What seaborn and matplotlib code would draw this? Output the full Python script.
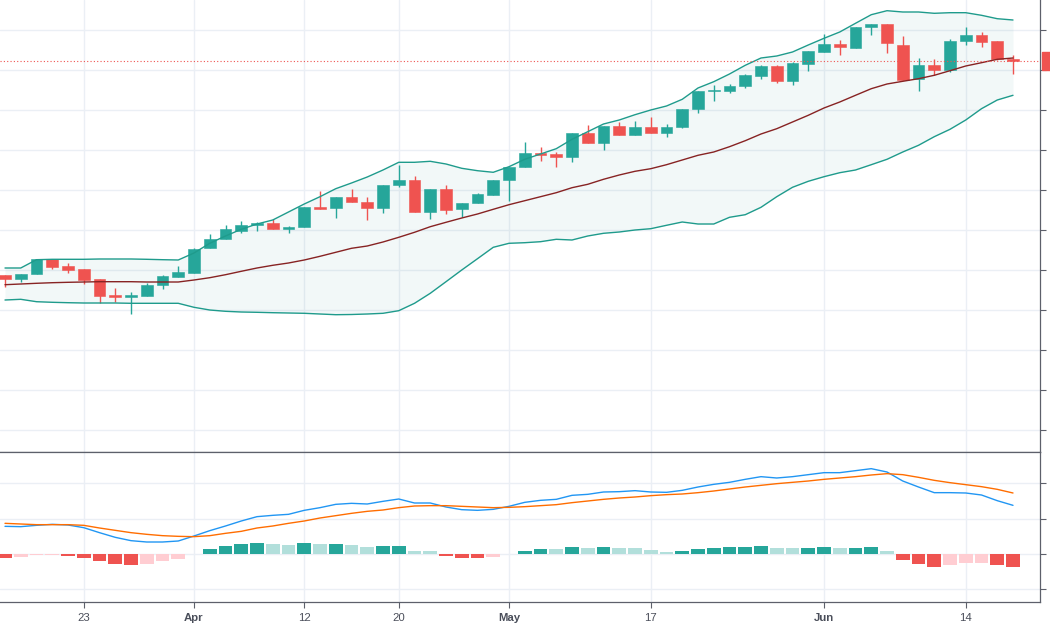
import matplotlib
matplotlib.use("Agg")
import matplotlib.pyplot as plt
from matplotlib.patches import Rectangle
import numpy as np
import pandas as pd
import seaborn as sns

# ---- data (price units, one row per session) ----
opens = [234.7, 231.3, 236, 250.7, 244, 240.7, 230.7, 214.7, 212.7, 214,
         224.7, 232.7, 237.3, 262, 271.3, 279.3, 284.7, 286.7, 281.3, 283.3,
         303.3, 302, 313.3, 308, 302, 324.7, 330, 298, 321.3, 300.7,
         307.3, 315.3, 330, 342.7, 357.3, 356, 352.7, 376.7, 366.7, 384,
         375.3, 383.3, 377.3, 382.7, 401.3, 419.2, 418.7, 424, 434, 444,
         429.3, 446, 458, 466, 462, 482.7, 486, 465.3, 430.7, 445.3,
         440, 469.3, 475.3, 468.7, 451.3]
closes = [231.3, 236, 250.7, 243.3, 240, 230, 214, 212.7, 215.3, 225,
          234, 238, 261.3, 271.3, 280.7, 284.7, 286.7, 281.3, 283.3, 302.7,
          301.3, 312.7, 308, 302, 324.7, 330, 298, 321.3, 300, 307.3,
          316, 330, 343.3, 357.3, 355.3, 352.7, 376.7, 367.3, 384, 375.3,
          383.3, 376.7, 382.7, 401.3, 419.3, 419.6, 424, 434.7, 444, 429.3,
          446.7, 459.3, 466, 462.7, 482.7, 486, 466.7, 430, 445.3, 440,
          469.3, 475.3, 468, 450.7, 448.7]
highs = [235.5, 236, 251, 251, 247.3, 241, 231, 222, 218, 227.3,
         234.7, 244, 262, 276, 284.7, 288.7, 288, 291.3, 284, 303,
         318.7, 313, 320.7, 312.7, 324.7, 345.3, 334.5, 321.3, 325, 307.3,
         317.3, 330, 343.3, 368, 362.7, 358, 377, 385.3, 384, 388,
         389, 392.7, 386, 401.3, 419.3, 425.5, 426, 436.5, 445.3, 445.3,
         448, 459.3, 476, 470, 483, 486.5, 486.5, 474, 452, 450.7,
         471.3, 483.3, 478, 468.7, 454.7]
lows = [223, 228, 236, 241.3, 236.7, 226, 206.7, 208, 196, 214,
        221.3, 232.7, 237.3, 262, 271.3, 276.7, 278.7, 281, 276.7, 283.3,
        301.3, 292, 308, 290, 297.5, 323.3, 298, 290.7, 296, 292.7,
        307.3, 315.3, 308.7, 342.7, 349.3, 343.3, 348, 367.3, 360, 375.3,
        375.3, 376.7, 373.3, 382, 396.7, 409.5, 416.7, 422, 431.3, 426.7,
        425.3, 439.3, 458, 454.7, 462, 475.3, 456.7, 430, 419.3, 434.7,
        438, 465.3, 463.3, 450, 436]

bb_upper = [242, 242, 250.3, 250.7, 250.7, 250.7, 251, 251, 251, 250.7,
            250.3, 250, 257, 266.7, 274, 280.7, 286, 290, 298, 306,
            313.3, 321.3, 327, 333, 340, 347.7, 347.7, 348.7, 346, 341.7,
            339.3, 337.7, 343.3, 350.7, 356, 361.3, 370.7, 378.3, 386, 390,
            395.3, 400, 404, 410.7, 422, 428.3, 436, 444.7, 452, 454,
            458, 465, 471.7, 478, 486.7, 495.3, 499.3, 498, 498, 496.7,
            497.3, 497.3, 494.7, 491.3, 490]
bb_basis = [225.3, 226, 226.7, 227.3, 227.7, 228, 228.3, 228.3, 228.3, 228,
            228, 228, 230, 232.3, 235.3, 238.7, 242, 244.7, 247, 250,
            253.7, 257.7, 261.7, 264, 268, 272.7, 277.7, 283.3, 287.7, 292,
            296, 300.7, 305.3, 309.3, 313.3, 317.3, 322.3, 325.7, 330.7, 335,
            338.7, 341.3, 345.3, 350, 354.7, 358, 363.3, 369.3, 376, 381.3,
            388, 394.7, 402, 408, 414.7, 421.3, 426, 428.7, 431.3, 434.7,
            439.3, 444, 447.3, 450.7, 452]
bb_lower = [210, 210.7, 208.3, 207.7, 207.3, 207, 207, 207, 206.7, 206.7,
            206.7, 206.7, 202.7, 200, 198.7, 198, 197.7, 197.3, 197, 196.7,
            196, 195.3, 195.5, 196, 196.7, 199.3, 206.7, 216.7, 228.3, 240,
            251.3, 262.7, 266.7, 267.3, 268.3, 270.7, 270, 274, 276.7, 278,
            280, 281.3, 284.7, 288, 286, 286, 292.7, 295.3, 302.7, 313.3,
            322.7, 328.7, 333.3, 337.3, 340, 345.3, 350.7, 358, 364.7, 373.3,
            380.7, 390, 401.3, 410, 414.7]

macd_line = [0.84, 0.83, 0.87, 0.90, 0.88, 0.80, 0.65, 0.51, 0.41, 0.37,
             0.37, 0.40, 0.55, 0.71, 0.85, 1.00, 1.13, 1.17, 1.20, 1.32,
             1.40, 1.50, 1.53, 1.51, 1.59, 1.66, 1.54, 1.54, 1.42, 1.34,
             1.32, 1.35, 1.44, 1.56, 1.62, 1.65, 1.77, 1.80, 1.87, 1.88,
             1.91, 1.87, 1.86, 1.92, 2.02, 2.10, 2.16, 2.25, 2.33, 2.29,
             2.33, 2.39, 2.45, 2.45, 2.51, 2.57, 2.47, 2.20, 2.02, 1.85,
             1.85, 1.84, 1.78, 1.61, 1.47]
signal_line = [0.93, 0.91, 0.89, 0.89, 0.89, 0.87, 0.79, 0.72, 0.65, 0.60,
               0.56, 0.54, 0.53, 0.56, 0.63, 0.69, 0.79, 0.85, 0.93, 1.00,
               1.09, 1.16, 1.23, 1.29, 1.33, 1.40, 1.45, 1.46, 1.46, 1.44,
               1.42, 1.40, 1.41, 1.43, 1.46, 1.49, 1.55, 1.60, 1.65, 1.69,
               1.72, 1.76, 1.79, 1.81, 1.85, 1.90, 1.96, 2.02, 2.07, 2.12,
               2.16, 2.20, 2.25, 2.29, 2.33, 2.38, 2.42, 2.39, 2.31, 2.22,
               2.15, 2.09, 2.03, 1.95, 1.84]
macd_hist = [-0.10, -0.09, -0.03, -0.02, -0.05, -0.10, -0.20, -0.28, -0.31, -0.28,
             -0.20, -0.15, 0.02, 0.15, 0.25, 0.32, 0.35, 0.30, 0.27, 0.33,
             0.30, 0.32, 0.27, 0.21, 0.25, 0.26, 0.10, 0.10, -0.05, -0.10,
             -0.11, -0.07, 0.02, 0.11, 0.15, 0.15, 0.22, 0.20, 0.22, 0.20,
             0.18, 0.13, 0.07, 0.10, 0.17, 0.20, 0.22, 0.23, 0.25, 0.18,
             0.18, 0.20, 0.21, 0.18, 0.20, 0.21, 0.10, -0.18, -0.28, -0.38,
             -0.33, -0.25, -0.25, -0.33, -0.38]

tick_pos = [5, 12, 19, 25, 32, 41, 52, 61]
tick_labels = ["23", "Apr", "12", "20", "May", "17", "Jun", "14"]
month_labels = ["Apr", "May", "Jun"]

# ---- styling ----
UP, DOWN = "#26a69a", "#ef5350"
UP_LIGHT, DOWN_LIGHT = "#b2dfdb", "#ffcdd2"
BAND = "#1f9b8c"
GRID = "#ebeff5"
AXIS = "#5d606b"
TEXT = "#4a4e5a"

sns.set_theme(style="white")
plt.rcParams["font.family"] = ["Liberation Sans", "DejaVu Sans"]

df = pd.DataFrame({"open": opens, "close": closes, "high": highs, "low": lows,
                   "upper": bb_upper, "basis": bb_basis, "lower": bb_lower,
                   "macd": macd_line, "signal": signal_line, "hist": macd_hist})
df["i"] = np.arange(len(df))

fig = plt.figure(figsize=(10.5, 6.3), dpi=100)
W, H = 1050, 630
right_px = 1040
ax = fig.add_axes([0, 1 - 452 / H, right_px / W, 452 / H])
ax2 = fig.add_axes([0, 1 - 602 / H, right_px / W, 150 / H])

x0 = -5 / 15.75
x1 = (right_px - 5) / 15.75

# ---- price panel ----
ax.fill_between(df["i"], df["lower"], df["upper"], color="#198787", alpha=0.055, lw=0, zorder=1)

up = df["close"] >= df["open"]
colors = np.where(up, UP, DOWN)
ax.vlines(df["i"], df["low"], df["high"], colors=colors, lw=1.0, zorder=2)
body_low = np.minimum(df["open"], df["close"])
body_h = np.maximum(np.abs(df["close"] - df["open"]), 0.8)
ax.bar(df["i"], body_h, bottom=body_low, width=0.76, color=colors,
       edgecolor=colors, linewidth=0.4, zorder=3)

sns.lineplot(data=df, x="i", y="upper", ax=ax, color=BAND, lw=1.0, zorder=4)
sns.lineplot(data=df, x="i", y="lower", ax=ax, color=BAND, lw=1.0, zorder=4)
sns.lineplot(data=df, x="i", y="basis", ax=ax, color="#872323", lw=1.0, zorder=4)

last = df["close"].iloc[-1]
ax.axhline(last, color=DOWN, lw=0.8, ls=(0, (1, 2)), zorder=5)
ax.add_patch(Rectangle((1.002, last - 9), 0.02, 18, transform=ax.get_yaxis_transform(),
                       color=DOWN, clip_on=False, zorder=6))

ax.set_xlim(x0, x1)
ax.set_ylim(58, 510)
ax.set_yticks(np.arange(80, 481, 40))
ax.set_xticks(tick_pos)
ax.grid(True, color=GRID, lw=1.0)
ax.set_axisbelow(True)
ax.yaxis.tick_right()
ax.tick_params(axis="y", which="both", right=True, length=4, width=0.8, color=AXIS,
               labelright=False, direction="out")
ax.tick_params(axis="x", length=0, labelbottom=False)
ax.set_xlabel("")
ax.set_ylabel("")
for s in ["left", "top"]:
    ax.spines[s].set_visible(False)
for s in ["right", "bottom"]:
    ax.spines[s].set_visible(True)
    ax.spines[s].set_color(AXIS)
    ax.spines[s].set_linewidth(0.9)

# ---- MACD panel ----
hist_colors = []
prev = 0.0
for h in macd_hist:
    if h >= 0:
        hist_colors.append(UP if h > prev else UP_LIGHT)
    else:
        hist_colors.append(DOWN if h < prev else DOWN_LIGHT)
    prev = h
ax2.bar(df["i"], df["hist"], width=0.86, color=hist_colors, lw=0, zorder=2)
sns.lineplot(data=df, x="i", y="macd", ax=ax2, color="#2196f3", lw=1.0, zorder=3)
sns.lineplot(data=df, x="i", y="signal", ax=ax2, color="#ff6d00", lw=1.0, zorder=3)

ax2.set_xlim(x0, x1)
ax2.set_ylim(-1.43, 3.07)
ax2.set_yticks([-1.04, 0, 1.06, 2.14])
ax2.set_xticks(tick_pos)
ax2.set_xticklabels(tick_labels)
ax2.grid(True, color=GRID, lw=1.0)
ax2.set_axisbelow(True)
ax2.yaxis.tick_right()
ax2.tick_params(axis="y", right=True, length=4, width=0.8, color=AXIS,
                labelright=False, direction="out")
ax2.tick_params(axis="x", bottom=True, length=4, width=0.8, color=AXIS,
                labelsize=8.2, labelcolor=TEXT, pad=4, direction="out")
for lbl in ax2.get_xticklabels():
    if lbl.get_text() in month_labels:
        lbl.set_fontweight("bold")
ax2.set_xlabel("")
ax2.set_ylabel("")
ax2.spines["left"].set_visible(False)
for s in ["right", "bottom", "top"]:
    ax2.spines[s].set_visible(True)
    ax2.spines[s].set_color(AXIS)
    ax2.spines[s].set_linewidth(0.9)

fig.savefig("out.png", dpi=100)
